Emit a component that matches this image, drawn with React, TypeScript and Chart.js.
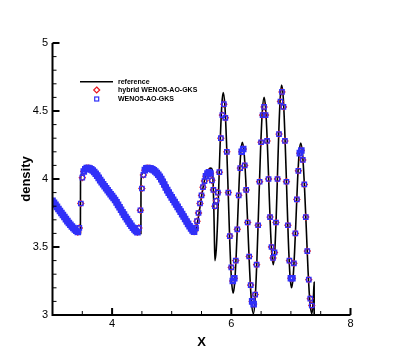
import React, { useEffect, useRef } from 'react';
import { Chart, registerables } from 'chart.js';

Chart.register(...registerables);

const X_MIN = 3;
const X_MAX = 8;
const Y_MIN = 3;
const Y_MAX = 5;
const xTickLabels = [4, 6, 8];
const yTickLabels = [3, 3.5, 4, 4.5, 5];
const xAxisTitle = 'X';
const yAxisTitle = 'density';
const seriesNames = ['reference', 'hybrid WENO5-AO-GKS', 'WENO5-AO-GKS'];

// reference solution (fine mesh)
const referencePoints: number[][] = [
  [3.0, 3.84], [3.05, 3.81], [3.1, 3.78], [3.15, 3.75], [3.2, 3.72], [3.25, 3.69], [3.3, 3.664], [3.35, 3.64],
  [3.4, 3.619], [3.44, 3.605], [3.468, 3.6], [3.47, 3.98], [3.485, 4.035], [3.5, 4.055], [3.525, 4.07], [3.55, 4.077],
  [3.575, 4.08], [3.6, 4.08], [3.65, 4.071], [3.7, 4.051], [3.75, 4.025], [3.8, 3.992], [3.85, 3.962], [3.9, 3.932],
  [3.95, 3.903], [4.0, 3.874], [4.05, 3.846], [4.1, 3.81], [4.15, 3.774], [4.2, 3.738], [4.25, 3.705], [4.3, 3.672],
  [4.35, 3.642], [4.4, 3.618], [4.44, 3.604], [4.483, 3.6], [4.485, 3.98], [4.5, 4.035], [4.525, 4.062], [4.55, 4.075],
  [4.58, 4.08], [4.625, 4.079], [4.7, 4.064], [4.75, 4.044], [4.8, 4.016], [4.85, 3.98], [4.9, 3.938], [4.95, 3.9],
  [5.0, 3.865], [5.05, 3.83], [5.1, 3.795], [5.15, 3.76], [5.2, 3.724], [5.25, 3.688], [5.3, 3.653], [5.35, 3.618],
  [5.375, 3.605], [5.4, 3.625], [5.425, 3.665], [5.45, 3.725], [5.475, 3.795], [5.5, 3.87], [5.525, 3.935], [5.55, 3.99],
  [5.575, 4.03], [5.6, 4.055], [5.625, 4.072], [5.65, 4.08], [5.67, 4.078], [5.685, 4.05], [5.695, 3.97], [5.705, 3.82],
  [5.715, 3.6], [5.725, 3.4], [5.748, 3.483], [5.772, 3.709], [5.795, 4.018], [5.818, 4.326], [5.842, 4.552], [5.865, 4.635],
  [5.893, 4.536], [5.92, 4.266], [5.948, 3.898], [5.975, 3.529], [6.003, 3.259], [6.03, 3.16], [6.056, 3.234], [6.082, 3.438],
  [6.108, 3.715], [6.133, 3.993], [6.159, 4.196], [6.185, 4.27], [6.216, 4.186], [6.247, 3.955], [6.278, 3.64], [6.308, 3.325],
  [6.339, 3.094], [6.37, 3.01], [6.4, 3.117], [6.43, 3.408], [6.46, 3.805], [6.49, 4.203], [6.52, 4.494], [6.55, 4.6],
  [6.576, 4.518], [6.602, 4.293], [6.628, 3.985], [6.653, 3.678], [6.679, 3.452], [6.705, 3.37], [6.728, 3.458], [6.752, 3.7],
  [6.775, 4.03], [6.798, 4.36], [6.822, 4.602], [6.845, 4.69], [6.873, 4.59], [6.9, 4.318], [6.928, 3.945], [6.955, 3.573],
  [6.983, 3.3], [7.01, 3.2], [7.036, 3.271], [7.062, 3.466], [7.088, 3.733], [7.113, 3.999], [7.139, 4.194], [7.165, 4.265],
  [7.196, 4.181], [7.227, 3.951], [7.258, 3.638], [7.288, 3.324], [7.319, 3.094], [7.35, 3.01], [7.365, 3.05], [7.378, 3.13],
  [7.39, 3.24], [7.392, 2.5],
];

// hybrid WENO5-AO-GKS and WENO5-AO-GKS coincide at plotting scale
const hybridPoints: number[][] = [
  [3.0, 3.84], [3.025, 3.825], [3.05, 3.81], [3.075, 3.795], [3.1, 3.78], [3.125, 3.765], [3.15, 3.75], [3.175, 3.735],
  [3.2, 3.72], [3.225, 3.705], [3.25, 3.69], [3.275, 3.677], [3.3, 3.664], [3.325, 3.651], [3.35, 3.64], [3.375, 3.629],
  [3.4, 3.619], [3.425, 3.61], [3.45, 3.64], [3.475, 3.82], [3.5, 4.01], [3.525, 4.055], [3.55, 4.072], [3.575, 4.08],
  [3.6, 4.08], [3.625, 4.077], [3.65, 4.071], [3.675, 4.062], [3.7, 4.051], [3.725, 4.039], [3.75, 4.025], [3.775, 4.008],
  [3.8, 3.992], [3.825, 3.977], [3.85, 3.962], [3.875, 3.947], [3.9, 3.932], [3.925, 3.917], [3.95, 3.903], [3.975, 3.888],
  [4.0, 3.874], [4.025, 3.86], [4.05, 3.846], [4.075, 3.828], [4.1, 3.81], [4.125, 3.792], [4.15, 3.774], [4.175, 3.756],
  [4.2, 3.738], [4.225, 3.721], [4.25, 3.705], [4.275, 3.688], [4.3, 3.672], [4.325, 3.656], [4.35, 3.642], [4.375, 3.629],
  [4.4, 3.618], [4.425, 3.609], [4.45, 3.64], [4.475, 3.77], [4.5, 3.93], [4.525, 4.03], [4.55, 4.065], [4.575, 4.078],
  [4.6, 4.08], [4.625, 4.079], [4.65, 4.076], [4.675, 4.071], [4.7, 4.064], [4.725, 4.055], [4.75, 4.044], [4.775, 4.031],
  [4.8, 4.016], [4.825, 3.999], [4.85, 3.98], [4.875, 3.96], [4.9, 3.938], [4.925, 3.918], [4.95, 3.9], [4.975, 3.882],
  [5.0, 3.865], [5.025, 3.847], [5.05, 3.83], [5.075, 3.812], [5.1, 3.795], [5.125, 3.777], [5.15, 3.76], [5.175, 3.742],
  [5.2, 3.724], [5.225, 3.706], [5.25, 3.688], [5.275, 3.67], [5.3, 3.653], [5.325, 3.637], [5.35, 3.622], [5.375, 3.612],
  [5.4, 3.64], [5.425, 3.69], [5.45, 3.75], [5.475, 3.82], [5.5, 3.88], [5.525, 3.94], [5.55, 3.985], [5.575, 4.02],
  [5.6, 4.04], [5.625, 4.05], [5.65, 4.04], [5.675, 3.99], [5.7, 3.92], [5.725, 3.8], [5.75, 3.84], [5.775, 3.9],
  [5.8, 4.05], [5.825, 4.3], [5.85, 4.47], [5.875, 4.55], [5.9, 4.45], [5.925, 4.2], [5.95, 3.9], [5.975, 3.58],
  [6.0, 3.35], [6.025, 3.25], [6.05, 3.27], [6.075, 3.4], [6.1, 3.63], [6.125, 3.88], [6.15, 4.08], [6.175, 4.2],
  [6.2, 4.22], [6.225, 4.1], [6.25, 3.92], [6.275, 3.68], [6.3, 3.43], [6.325, 3.22], [6.35, 3.1], [6.375, 3.08],
  [6.4, 3.15], [6.425, 3.37], [6.45, 3.66], [6.475, 3.98], [6.5, 4.27], [6.525, 4.47], [6.55, 4.53], [6.575, 4.47],
  [6.6, 4.28], [6.625, 4.0], [6.65, 3.72], [6.675, 3.5], [6.7, 3.42], [6.725, 3.46], [6.75, 3.68], [6.775, 4.0],
  [6.8, 4.33], [6.825, 4.57], [6.85, 4.64], [6.875, 4.53], [6.9, 4.28], [6.925, 3.98], [6.95, 3.66], [6.975, 3.4],
  [7.0, 3.27], [7.025, 3.27], [7.05, 3.38], [7.075, 3.6], [7.1, 3.85], [7.125, 4.06], [7.15, 4.19], [7.175, 4.21],
  [7.2, 4.14], [7.225, 3.96], [7.25, 3.72], [7.275, 3.47], [7.3, 3.26], [7.325, 3.12], [7.35, 3.07],
];
const wenoPoints: number[][] = hybridPoints;

const toXY = (pts: number[][]) => pts.map((p) => ({ x: p[0], y: p[1] }));

const RED = '#e8141e';
const BLUE = '#3030f8';
const FONT = '"Liberation Sans", Arial, Helvetica, sans-serif';

// thicker marker outlines where markers pile up into a band (flat parts of the profile)
const bandWidth = (pts: number[][], thin: number, thick: number) => (c: any) => {
  const i = c.dataIndex;
  if (i == null || !pts[i]) return thin;
  const prev = pts[i - 1];
  const next = pts[i + 1];
  const d1 = prev ? Math.abs(pts[i][1] - prev[1]) : 1;
  const d2 = next ? Math.abs(pts[i][1] - next[1]) : 1;
  return Math.min(d1, d2) < 0.03 ? thick : thin;
};

const decorPlugin = {
  id: 'decor',
  afterDraw(chart: any) {
    const ctx = chart.ctx;
    const xs = chart.scales.x;
    const ys = chart.scales.y;
    const left = xs.getPixelForValue(X_MIN);
    const right = xs.getPixelForValue(X_MAX);
    const top = ys.getPixelForValue(Y_MAX);
    const bottom = ys.getPixelForValue(Y_MIN);
    ctx.save();
    ctx.strokeStyle = '#000';
    ctx.lineCap = 'butt';
    ctx.lineWidth = 2;
    ctx.beginPath();
    ctx.moveTo(left, top);
    ctx.lineTo(left, bottom);
    ctx.lineTo(right, bottom);
    ctx.stroke();
    // y ticks (inward)
    for (let k = 0; k <= 20; k++) {
      const v = Y_MIN + k * 0.1;
      const p = ys.getPixelForValue(v);
      const major = k % 5 === 0;
      ctx.lineWidth = major ? 2 : 1;
      ctx.beginPath();
      ctx.moveTo(left, p);
      ctx.lineTo(left + (major ? 7 : 4), p);
      ctx.stroke();
    }
    // x ticks (inward)
    for (let k = 0; k <= 10; k++) {
      const v = X_MIN + k * 0.5;
      const p = xs.getPixelForValue(v);
      const major = xTickLabels.indexOf(v) >= 0;
      ctx.lineWidth = major ? 2 : 1;
      ctx.beginPath();
      ctx.moveTo(p, bottom);
      ctx.lineTo(p, bottom - (major ? 7 : 4));
      ctx.stroke();
    }
    // axis titles
    ctx.fillStyle = '#000';
    ctx.font = `bold 13px ${FONT}`;
    ctx.textAlign = 'center';
    ctx.textBaseline = 'middle';
    ctx.fillText(xAxisTitle, (left + right) / 2, 342.5);
    ctx.save();
    ctx.translate(26, (top + bottom) / 2);
    ctx.rotate(-Math.PI / 2);
    ctx.fillText(yAxisTitle, 0, 0);
    ctx.restore();
    // legend
    const lx = 80;
    const tx = 118;
    const rows = [81.7, 90, 99];
    ctx.lineWidth = 1.6;
    ctx.beginPath();
    ctx.moveTo(lx, rows[0]);
    ctx.lineTo(113, rows[0]);
    ctx.stroke();
    const mx = 96.7;
    ctx.lineWidth = 1.2;
    ctx.strokeStyle = RED;
    ctx.beginPath();
    ctx.moveTo(mx, rows[1] - 3);
    ctx.lineTo(mx + 3, rows[1]);
    ctx.lineTo(mx, rows[1] + 3);
    ctx.lineTo(mx - 3, rows[1]);
    ctx.closePath();
    ctx.stroke();
    ctx.strokeStyle = BLUE;
    ctx.strokeRect(mx - 2, rows[2] - 2, 4, 4);
    ctx.font = `bold 7px ${FONT}`;
    ctx.textAlign = 'left';
    ctx.textBaseline = 'middle';
    ctx.fillStyle = '#000';
    seriesNames.forEach((n, i) => ctx.fillText(n, tx, rows[i]));
    ctx.restore();
  },
};

export default function App() {
  const ref = useRef<HTMLCanvasElement | null>(null);
  useEffect(() => {
    if (!ref.current) return;
    const chart = new Chart(ref.current, {
      type: 'scatter',
      data: {
        datasets: [
          {
            label: seriesNames[2],
            data: toXY(wenoPoints),
            pointStyle: 'rect',
            pointRadius: 3.1,
            pointBorderWidth: bandWidth(wenoPoints, 1.3, 2.2),
            borderColor: BLUE,
            backgroundColor: 'rgba(0,0,0,0)',
            showLine: false,
            order: 1,
          } as any,
          {
            label: seriesNames[1],
            data: toXY(hybridPoints),
            pointStyle: 'rectRot',
            pointRadius: 3,
            pointBorderWidth: 1.2,
            borderColor: RED,
            backgroundColor: 'rgba(0,0,0,0)',
            showLine: false,
            order: 2,
          },
          {
            label: seriesNames[0],
            data: toXY(referencePoints),
            showLine: true,
            pointRadius: 0,
            borderColor: '#000',
            borderWidth: 1.6,
            cubicInterpolationMode: 'monotone',
            clip: 0,
            order: 3,
          } as any,
        ],
      },
      options: {
        animation: false,
        responsive: false,
        events: [],
        layout: { padding: { top: 43, right: 48.5, bottom: 0, left: 0 } },
        plugins: { legend: { display: false }, tooltip: { enabled: false } },
        scales: {
          x: {
            type: 'linear',
            min: X_MIN,
            max: X_MAX,
            grid: { display: false, drawTicks: false },
            border: { display: false },
            afterFit: (s: any) => {
              s.height = 40;
            },
            ticks: {
              stepSize: 1,
              padding: 2,
              maxRotation: 0,
              autoSkip: false,
              color: '#000',
              font: { family: FONT, size: 11 },
              callback: (v: any) => (xTickLabels.indexOf(Number(v)) >= 0 ? String(v) : ''),
            },
          },
          y: {
            type: 'linear',
            min: Y_MIN,
            max: Y_MAX,
            grid: { display: false, drawTicks: false },
            border: { display: false },
            afterFit: (s: any) => {
              s.width = 52.5;
            },
            ticks: {
              stepSize: 0.5,
              padding: 4.5,
              color: '#000',
              font: { family: FONT, size: 11 },
              callback: (v: any) => (yTickLabels.indexOf(Number(v)) >= 0 ? String(v) : ''),
            },
          },
        },
      },
      plugins: [decorPlugin],
    });
    return () => chart.destroy();
  }, []);
  return (
    <div style={{ position: 'fixed', left: 0, top: 0, width: 399, height: 355, background: '#fff' }}>
      <canvas ref={ref} width={399} height={355} style={{ display: 'block' }} />
    </div>
  );
}
